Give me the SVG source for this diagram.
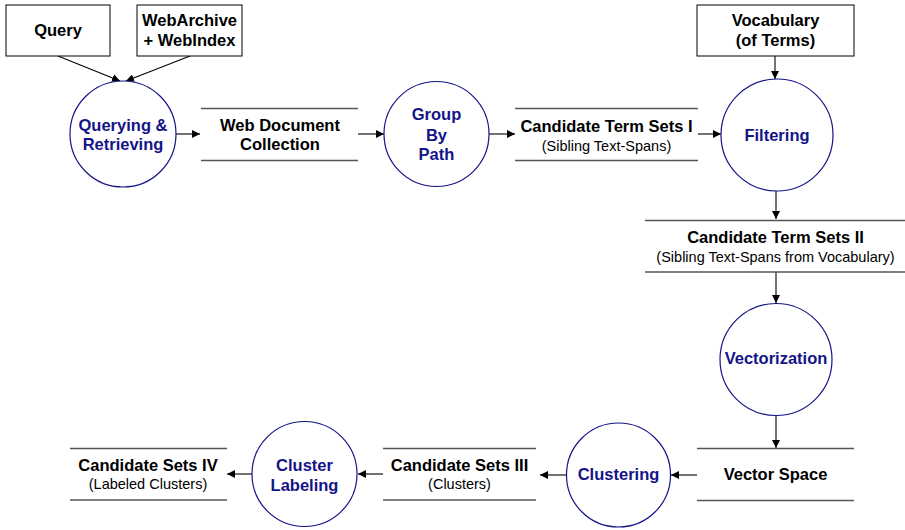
<svg xmlns="http://www.w3.org/2000/svg" width="905" height="530" viewBox="0 0 905 530">
  <style>
    text { font-family: "Liberation Sans", Arial, sans-serif; text-anchor: middle; }
    .t { font-size: 16.5px; font-weight: bold; fill: #000; }
    .s { font-size: 14.5px; fill: #000; }
    .p { font-size: 16.5px; font-weight: bold; fill: #141488; }
    .box { fill: #fff; stroke: #000; stroke-width: 1; }
    .proc { fill: #fff; stroke: #141488; stroke-width: 1.2; }
    .store { stroke: #555; stroke-width: 1.5; fill: none; }
    .edge { stroke: #000; stroke-width: 1.1; fill: none; marker-end: url(#arrow); }
  </style>
  <defs>
    <marker id="arrow" viewBox="0 0 10 10" refX="10" refY="5" markerWidth="8" markerHeight="8" markerUnits="userSpaceOnUse" orient="auto">
      <path d="M0,0 L10,5 L0,10 Z" fill="#000"/>
    </marker>
  </defs>
  <rect width="905" height="530" fill="#fff"/>

  <!-- connectors -->
  <g id="connectors">
    <line class="edge" x1="58" y1="56" x2="120" y2="81"/>
    <line class="edge" x1="190" y1="56" x2="126" y2="81"/>
    <line class="edge" x1="176" y1="134" x2="200" y2="134"/>
    <line class="edge" x1="358" y1="134" x2="384" y2="134"/>
    <line class="edge" x1="489" y1="134" x2="515" y2="134"/>
    <line class="edge" x1="698" y1="134" x2="721" y2="134"/>
    <line class="edge" x1="775" y1="56" x2="775" y2="79"/>
    <line class="edge" x1="776" y1="191" x2="776" y2="219"/>
    <line class="edge" x1="776" y1="272" x2="776" y2="303"/>
    <line class="edge" x1="776" y1="416" x2="776" y2="448"/>
    <line class="edge" x1="697" y1="475" x2="671" y2="475"/>
    <line class="edge" x1="567" y1="475" x2="540" y2="475"/>
    <line class="edge" x1="383" y1="474" x2="358" y2="474"/>
    <line class="edge" x1="252" y1="474" x2="227" y2="474"/>
  </g>

  <!-- external inputs -->
  <g id="query">
    <rect class="box" x="6" y="5" width="104" height="51"/>
    <text class="t" x="58" y="36">Query</text>
  </g>
  <g id="webarchive">
    <rect class="box" x="137" y="5" width="105" height="51"/>
    <text class="t" x="189.5" y="26">WebArchive</text>
    <text class="t" x="189.5" y="46">+ WebIndex</text>
  </g>
  <g id="vocabulary">
    <rect class="box" x="697" y="5" width="157" height="51"/>
    <text class="t" x="775.5" y="26">Vocabulary</text>
    <text class="t" x="775.5" y="46">(of Terms)</text>
  </g>

  <!-- processes -->
  <g id="querying">
    <circle class="proc" cx="123" cy="134" r="53"/>
    <text class="p" x="123" y="131">Querying &amp;</text>
    <text class="p" x="123" y="150">Retrieving</text>
  </g>
  <g id="groupbypath">
    <circle class="proc" cx="436.5" cy="134" r="52.5"/>
    <text class="p" x="436.5" y="120">Group</text>
    <text class="p" x="436.5" y="141">By</text>
    <text class="p" x="436.5" y="160">Path</text>
  </g>
  <g id="filtering">
    <circle class="proc" cx="777" cy="135" r="56"/>
    <text class="p" x="777" y="141">Filtering</text>
  </g>
  <g id="vectorization">
    <circle class="proc" cx="776" cy="359.5" r="56"/>
    <text class="p" x="776" y="364">Vectorization</text>
  </g>
  <g id="clustering">
    <circle class="proc" cx="618.5" cy="475" r="52"/>
    <text class="p" x="618.5" y="480">Clustering</text>
  </g>
  <g id="clusterlabeling">
    <circle class="proc" cx="304.5" cy="474" r="52.5"/>
    <text class="p" x="304.5" y="471">Cluster</text>
    <text class="p" x="304.5" y="491">Labeling</text>
  </g>

  <!-- data stores -->
  <g id="webdocs">
    <line class="store" x1="201" y1="108.5" x2="358" y2="108.5"/>
    <line class="store" x1="201" y1="160.5" x2="358" y2="160.5"/>
    <text class="t" x="280" y="130.5">Web Document</text>
    <text class="t" x="280" y="149.5">Collection</text>
  </g>
  <g id="termsets1">
    <line class="store" x1="515" y1="108.5" x2="698" y2="108.5"/>
    <line class="store" x1="515" y1="160.5" x2="698" y2="160.5"/>
    <text class="t" x="606.5" y="132">Candidate Term Sets I</text>
    <text class="s" x="606.5" y="151">(Sibling Text-Spans)</text>
  </g>
  <g id="termsets2">
    <line class="store" x1="645" y1="220.5" x2="905" y2="220.5"/>
    <line class="store" x1="645" y1="272" x2="905" y2="272"/>
    <text class="t" x="775.5" y="242.5">Candidate Term Sets II</text>
    <text class="s" x="775.5" y="262">(Sibling Text-Spans from Vocabulary)</text>
  </g>
  <g id="vectorspace">
    <line class="store" x1="697" y1="448.5" x2="854" y2="448.5"/>
    <line class="store" x1="697" y1="500.5" x2="854" y2="500.5"/>
    <text class="t" x="775.5" y="480">Vector Space</text>
  </g>
  <g id="sets3">
    <line class="store" x1="383" y1="448.5" x2="536" y2="448.5"/>
    <line class="store" x1="383" y1="500" x2="536" y2="500"/>
    <text class="t" x="459.5" y="471">Candidate Sets III</text>
    <text class="s" x="459.5" y="489">(Clusters)</text>
  </g>
  <g id="sets4">
    <line class="store" x1="70" y1="448.5" x2="227" y2="448.5"/>
    <line class="store" x1="70" y1="500" x2="227" y2="500"/>
    <text class="t" x="148" y="471">Candidate Sets IV</text>
    <text class="s" x="148" y="489">(Labeled Clusters)</text>
  </g>
</svg>
